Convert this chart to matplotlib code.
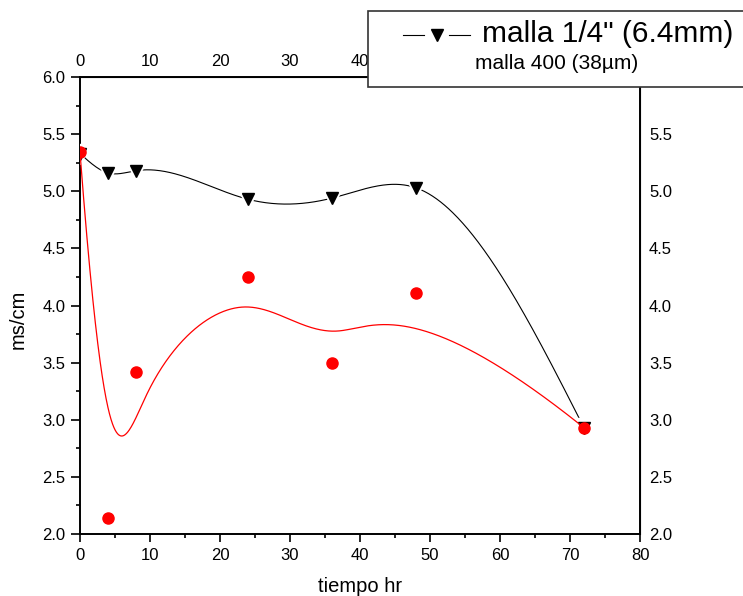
import numpy as np
import matplotlib
matplotlib.use("Agg")
import matplotlib.pyplot as plt
from matplotlib.patches import Rectangle
from matplotlib.lines import Line2D
from matplotlib.ticker import MultipleLocator

plt.rcParams['font.family'] = ['Liberation Sans', 'DejaVu Sans']

# datos
tiempo = [0, 4, 8, 24, 36, 48, 72]
malla_14 = [5.33, 5.16, 5.18, 4.93, 4.94, 5.03, 2.93]
malla_400 = [5.34, 2.14, 3.42, 4.25, 3.50, 4.11, 2.93]
xticks = [0, 10, 20, 30, 40, 50, 60, 70, 80]
yticks = [2.0, 2.5, 3.0, 3.5, 4.0, 4.5, 5.0, 5.5, 6.0]
top_ticks = [0, 10, 20, 30, 40]           # el resto queda tapado por la leyenda
right_ticks = [2.0, 2.5, 3.0, 3.5, 4.0, 4.5, 5.0, 5.5]


# spline natural que pasa por los puntos (curva negra)
def natural_spline(x, y, n=500):
    x = np.asarray(x, float)
    y = np.asarray(y, float)
    m = len(x)
    h = np.diff(x)
    A = np.zeros((m, m))
    r = np.zeros(m)
    A[0, 0] = 1
    A[-1, -1] = 1
    for i in range(1, m - 1):
        A[i, i - 1] = h[i - 1]
        A[i, i] = 2 * (h[i - 1] + h[i])
        A[i, i + 1] = h[i]
        r[i] = 6 * ((y[i + 1] - y[i]) / h[i] - (y[i] - y[i - 1]) / h[i - 1])
    M = np.linalg.solve(A, r)
    xx = np.linspace(x[0], x[-1], n)
    idx = np.clip(np.searchsorted(x, xx) - 1, 0, m - 2)
    hh = h[idx]
    a = (x[idx + 1] - xx) / hh
    b = (xx - x[idx]) / hh
    yy = a * y[idx] + b * y[idx + 1] + ((a ** 3 - a) * M[idx] + (b ** 3 - b) * M[idx + 1]) * hh ** 2 / 6
    return xx, yy


# B-spline cubica uniforme (curva roja, no pasa por los puntos)
def bspline(px, py, k=3, n=800):
    px = np.asarray(px, float)
    py = np.asarray(py, float)
    m = len(px)
    knots = np.concatenate([np.zeros(k), np.linspace(0, 1, m - k + 1), np.ones(k)])
    t = np.linspace(0, 1, n)
    t[-1] -= 1e-9

    def N(i, p):
        if p == 0:
            return ((knots[i] <= t) & (t < knots[i + 1])).astype(float)
        out = np.zeros_like(t)
        d1 = knots[i + p] - knots[i]
        d2 = knots[i + p + 1] - knots[i + 1]
        if d1 > 0:
            out += (t - knots[i]) / d1 * N(i, p - 1)
        if d2 > 0:
            out += (knots[i + p + 1] - t) / d2 * N(i + 1, p - 1)
        return out

    basis = np.array([N(i, k) for i in range(m)])
    return basis.T @ px, basis.T @ py


fig = plt.figure(figsize=(7.43, 5.96), dpi=100)
ax = fig.add_axes([80 / 743, 1 - 534 / 596, 560 / 743, 457 / 596])

bx, by = natural_spline(tiempo, malla_14)
ax.plot(bx, by, color='black', lw=0.8, zorder=2)
ax.plot(tiempo, malla_14, ls='none', marker='v', ms=14, color='white', zorder=3)
ax.plot(tiempo, malla_14, ls='none', marker='v', ms=8.5, color='black', zorder=4)

rx, ry = bspline(tiempo, malla_400)
ax.plot(rx, ry, color='red', lw=0.9, zorder=5)
ax.plot(tiempo, malla_400, ls='none', marker='o', ms=8, color='red', zorder=6)

ax.set_xlim(0, 80)
ax.set_ylim(2, 6)
ax.set_xticks(xticks)
ax.set_yticks(yticks)
ax.set_yticklabels([f"{v:.1f}" for v in yticks])
ax.xaxis.set_minor_locator(MultipleLocator(5))
ax.yaxis.set_minor_locator(MultipleLocator(0.25))
ax.tick_params(axis='x', which='major', direction='out', length=6, width=1.2, pad=4, labelsize=12)
ax.tick_params(axis='y', which='major', direction='out', length=6.5, width=1.2, pad=4, labelsize=12)
ax.tick_params(which='minor', direction='out', length=3, width=1.2)
for s in ax.spines.values():
    s.set_linewidth(1.4)

top = ax.secondary_xaxis('top')
top.set_xticks(top_ticks)
top.tick_params(length=0, pad=6, labelsize=12)
right = ax.secondary_yaxis('right')
right.set_yticks(right_ticks)
right.set_yticklabels([f"{v:.1f}" for v in right_ticks])
right.tick_params(length=0, pad=6.5, labelsize=12)

fig.text(18 / 743, 1 - 319 / 596, 'ms/cm', rotation=90, ha='center', va='center', fontsize=14.5)
fig.text(360 / 743, 1 - 586 / 596, 'tiempo hr', ha='center', va='center', fontsize=14.5)

# leyenda estilo Origin, parcialmente fuera de la figura
leg = Rectangle((368 / 743, 1 - 87 / 596), 0.7, 76 / 596, transform=fig.transFigure,
                facecolor='white', edgecolor='#333333', lw=1.2, zorder=10)
fig.add_artist(leg)
ly = 1 - 35 / 596
fig.add_artist(Line2D([403 / 743, 424 / 743], [ly, ly], transform=fig.transFigure, color='black', lw=0.8, zorder=11))
fig.add_artist(Line2D([449 / 743, 470 / 743], [ly, ly], transform=fig.transFigure, color='black', lw=0.8, zorder=11))
fig.add_artist(Line2D([437 / 743], [ly], transform=fig.transFigure, marker='v', ms=8.5, color='black', zorder=11))
fig.text(482 / 743, 1 - 42 / 596, 'malla 1/4" (6.4mm)', fontsize=21.5, va='baseline', zorder=12)
fig.text(475 / 743, 1 - 69 / 596, 'malla 400 (38µm)', fontsize=15, va='baseline', zorder=12)

fig.savefig('out.png', dpi=100)
